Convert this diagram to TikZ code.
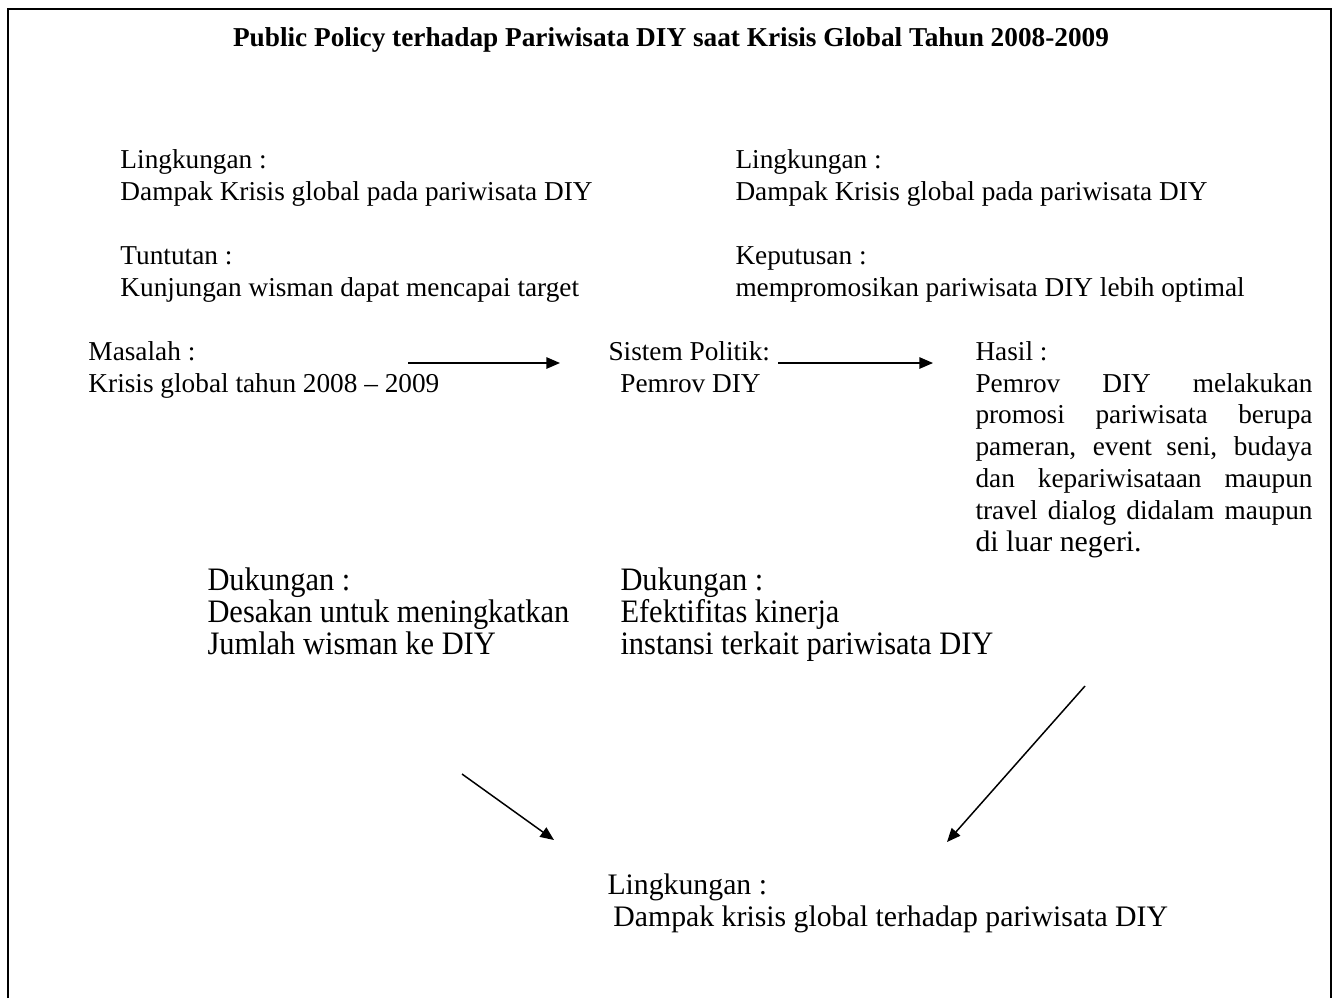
\documentclass[tikz,border=0pt]{standalone}
\usepackage{fontspec}
\setmainfont{Liberation Serif}
\newfontfamily\sempit[FakeStretch=0.93]{Liberation Serif}
\usetikzlibrary{arrows.meta, positioning}

\tikzset{
  teks/.style={anchor=base west, inner sep=0pt, align=left, font=\fontsize{11}{12.9}\selectfont},
  teksbesar/.style={anchor=base west, inner sep=0pt, align=left, font=\fontsize{12}{12.9}\selectfont},
  tekssempit/.style={anchor=base west, inner sep=0pt, align=left, font=\sempit\fontsize{13.2}{12.9}\selectfont},
  panah/.style={-{Triangle[length=5.5pt, width=4.6pt]}, line width=0.6pt}
}

\begin{document}
\begin{tikzpicture}[x=0.4032pt, y=-0.4032pt]
    \useasboundingbox (0,0) rectangle (1338,998);

    % Bingkai (tanpa garis bawah)
    \draw[line width=0.6pt] (8,998) -- (8,9) -- (1331,9) -- (1331,998);

    % Judul
    \node[anchor=base, inner sep=0pt, font=\bfseries\fontsize{11}{12.9}\selectfont] (judul) at (671,46) {Public Policy terhadap Pariwisata DIY saat Krisis Global Tahun 2008-2009};

    % Kolom kiri atas (posisi = garis dasar baris terakhir)
    \node[teks] (lingkiri) at (120,200) {Lingkungan :\\Dampak Krisis global pada pariwisata DIY};
    \node[teks] (tuntutan) at (120,296) {Tuntutan :\\Kunjungan wisman dapat mencapai target};

    % Kolom kanan atas
    \node[teks] (lingkanan) at (735,200) {Lingkungan :\\Dampak Krisis global pada pariwisata DIY};
    \node[teks] (keputusan) at (735,296) {Keputusan :\\mempromosikan pariwisata DIY lebih optimal};

    % Masalah -> Sistem Politik -> Hasil
    \node[teks] (masalah) at (88,392) {Masalah :\\Krisis global tahun 2008 – 2009};
    \node[teks] (sistem) at (608,392) {Sistem Politik:\\\hspace*{4.8pt}Pemrov DIY};
    \node[teks, text width=135.9pt, align=justify] (hasil) at (975,360) {\tolerance=10000\hyphenpenalty=10000
        Hasil :\\Pemrov DIY melakukan\linebreak promosi pariwisata berupa\linebreak
        pameran, event seni, budaya\linebreak dan kepariwisataan maupun\linebreak
        travel dialog didalam maupun\linebreak {\fontsize{12}{12.9}\selectfont di luar negeri.}};

    % Dukungan
    \node[tekssempit] (dukkiri) at (207,654) {Dukungan :\\Desakan untuk meningkatkan\\Jumlah wisman ke DIY};
    \node[tekssempit] (dukkanan) at (620,654) {Dukungan :\\Efektifitas kinerja\\instansi terkait pariwisata DIY};

    % Lingkungan bawah
    \node[teksbesar] (lingbawah) at (607,926) {Lingkungan :\\\hspace*{2.4pt}Dampak krisis global terhadap pariwisata DIY};

    % Ujung-ujung panah
    \coordinate (p1a) at (408,363);
    \coordinate (p1b) at (560,363);
    \coordinate (p2a) at (778,363);
    \coordinate (p2b) at (933,363);
    \coordinate (p3a) at (462,774);
    \coordinate (p3b) at (554,840);
    \coordinate (p4a) at (1085,686);
    \coordinate (p4b) at (947,842);

    \draw[panah] (p1a) -- (p1b); % masalah ke sistem politik
    \draw[panah] (p2a) -- (p2b); % sistem politik ke hasil
    \draw[panah] (p3a) -- (p3b); % dukungan kiri ke lingkungan
    \draw[panah] (p4a) -- (p4b); % hasil ke lingkungan
\end{tikzpicture}
\end{document}
